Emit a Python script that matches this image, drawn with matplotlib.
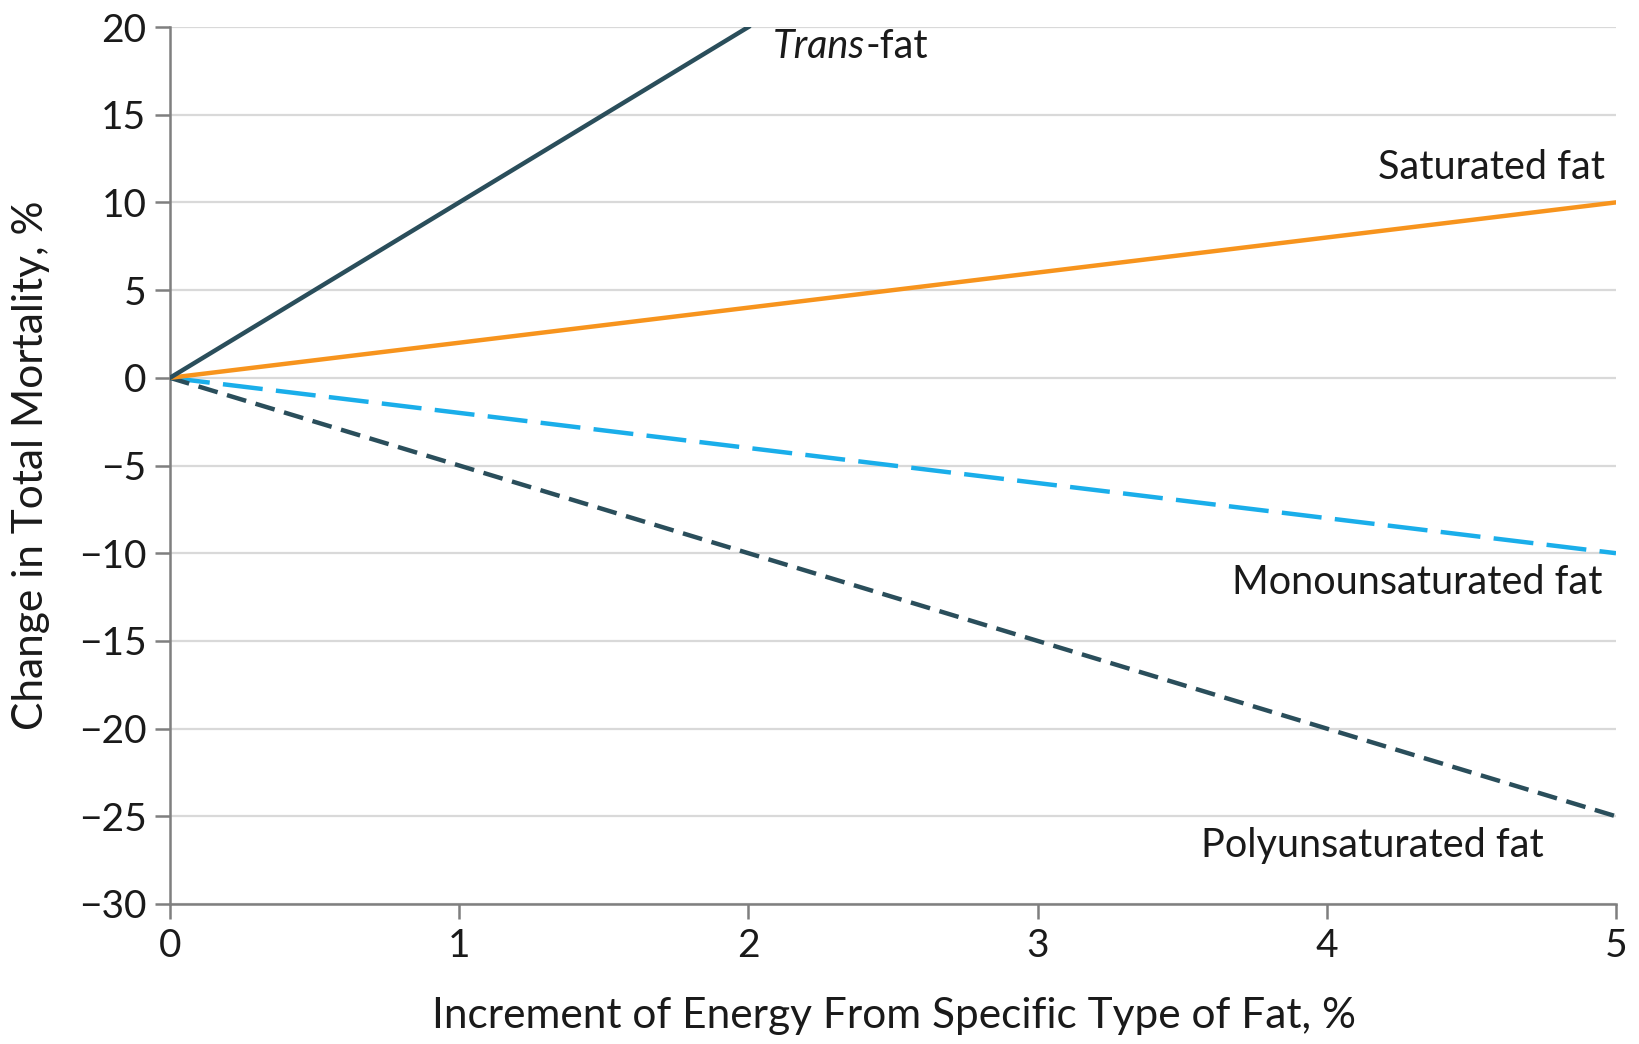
import matplotlib
matplotlib.use("Agg")
import matplotlib.pyplot as plt

plt.rcParams['font.family'] = ['Lato', 'DejaVu Sans']

x_trans = [0, 2]
y_trans = [0, 20]
x_sat = [0, 5]
y_sat = [0, 10]
x_mono = [0, 5]
y_mono = [0, -10]
x_poly = [0, 5]
y_poly = [0, -25]

xticks = [0, 1, 2, 3, 4, 5]
yticks = [-30, -25, -20, -15, -10, -5, 0, 5, 10, 15, 20]

dark = '#2a4e5b'
orange = '#f7941d'
blue = '#1aaeea'
gray = '#7f7f7f'
txt = '#1a1a1a'

fig = plt.figure(figsize=(16.39, 10.44), dpi=100)
ax = fig.add_axes([170/1639, 1-904/1044, (1616-170)/1639, (904-27)/1044])

ax.plot(x_mono, y_mono, color=blue, lw=3.2, dashes=(9, 3), zorder=3)
ax.plot(x_poly, y_poly, color=dark, lw=3.2, dashes=(4.5, 2.2), zorder=3)
ax.plot(x_sat, y_sat, color=orange, lw=3.2, zorder=4)
ax.plot(x_trans, y_trans, color=dark, lw=3.2, zorder=5)

ax.set_xlim(0, 5)
ax.set_ylim(-30, 20)
ax.set_xticks(xticks)
ax.set_yticks(yticks)
ax.set_yticklabels([str(v).replace('-', '\u2212') for v in yticks])
ax.grid(axis='y', color='#d9d9d9', lw=1.6, zorder=0)
ax.set_axisbelow(True)
for s in ['top', 'right']:
    ax.spines[s].set_visible(False)
for s in ['left', 'bottom']:
    ax.spines[s].set_color(gray)
    ax.spines[s].set_linewidth(1.8)
ax.tick_params(axis='both', colors=gray, width=1.8, length=11, labelsize=28,
               labelcolor=txt, pad=6)

fs = 28.5
tf = ax.text(2.085, 18.9, 'Trans', style='italic', fontsize=fs, color=txt,
             ha='left', va='center')
ax.annotate('-fat', xy=(1, 0), xycoords=tf, fontsize=fs, color=txt,
            ha='left', va='bottom')
ax.text(4.962, 12.0, 'Saturated fat', fontsize=fs, color=txt, ha='right', va='center')
ax.text(4.955, -11.65, 'Monounsaturated fat', fontsize=fs, color=txt, ha='right', va='center')
ax.text(4.751, -26.65, 'Polyunsaturated fat', fontsize=fs, color=txt, ha='right', va='center')

fig.text(894/1639, 1-1016/1044, 'Increment of Energy From Specific Type of Fat, %',
         fontsize=30.5, color=txt, ha='center', va='center')
fig.text(31/1639, 1-465/1044, 'Change in Total Mortality, %', rotation=90,
         fontsize=30.5, color=txt, ha='center', va='center')

fig.savefig('out.png', dpi=100)
